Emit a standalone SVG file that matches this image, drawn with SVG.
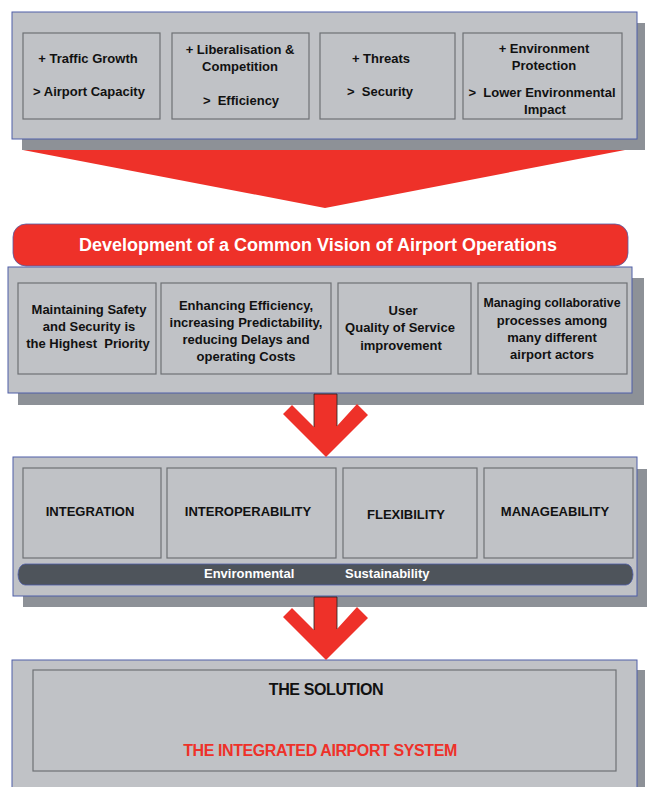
<svg xmlns="http://www.w3.org/2000/svg" width="647" height="787" viewBox="0 0 647 787">
<style>
.shadow{fill:#8D9197}
.panel{fill:#C0C2C6;stroke:#4F5EA8;stroke-width:1}
.cell{fill:#C0C2C6;stroke:#6E7175;stroke-width:1.2}
.red{fill:#EE3129}
text{font-family:"Liberation Sans",Arial,sans-serif;font-weight:bold;font-size:13px;fill:#111;text-anchor:middle;white-space:pre}
.white{fill:#fff}
.big{font-size:16px;letter-spacing:-0.4px}
</style>
<rect width="647" height="787" fill="#fff"/>
<g id="section1">
<rect class="shadow" x="22" y="23" width="623" height="127"/>
<rect class="panel" x="12" y="12" width="625" height="127"/>
</g>
<g id="node-traffic">
<rect class="cell" x="23" y="33" width="137" height="86"/>
<text x="88" y="63">+ Traffic Growth</text>
<text x="89" y="96">&gt; Airport Capacity</text>
</g>
<g id="node-liberalisation">
<rect class="cell" x="172" y="33" width="137" height="86"/>
<text x="240" y="54">+ Liberalisation &amp;</text>
<text x="240" y="71">Competition</text>
<text x="241" y="105" xml:space="preserve">&gt;  Efficiency</text>
</g>
<g id="node-threats">
<rect class="cell" x="320" y="33" width="135" height="86"/>
<text x="381" y="63">+ Threats</text>
<text x="380" y="96" xml:space="preserve">&gt;  Security</text>
</g>
<g id="node-environment">
<rect class="cell" x="463" y="33" width="159" height="86"/>
<text x="544" y="53">+ Environment</text>
<text x="544" y="70">Protection</text>
<text x="542" y="97" xml:space="preserve">&gt;  Lower Environmental</text>
<text x="545" y="114">Impact</text>
</g>
<g id="section2">
<rect class="shadow" x="18" y="278" width="626" height="127"/>
<rect class="red" x="13" y="224" width="615" height="42" rx="13" ry="13" stroke="#4F5EA8" stroke-width="0.8"/>
<text class="white" x="318" y="251" style="font-size:18px">Development of a Common Vision of Airport Operations</text>
<rect class="panel" x="8" y="267" width="624" height="126"/>
</g>
<g id="node-safety">
<rect class="cell" x="18" y="283" width="138" height="91"/>
<text x="89" y="314">Maintaining Safety</text>
<text x="89" y="331">and Security is</text>
<text x="88" y="348" xml:space="preserve">the Highest  Priority</text>
</g>
<g id="node-efficiency">
<rect class="cell" x="161" y="283" width="170" height="91"/>
<text x="246" y="310">Enhancing Efficiency,</text>
<text x="246" y="327">increasing Predictability,</text>
<text x="246" y="344">reducing Delays and</text>
<text x="246" y="361">operating Costs</text>
</g>
<g id="node-user">
<rect class="cell" x="338" y="283" width="133" height="91"/>
<text x="403" y="315">User</text>
<text x="400" y="332">Quality of Service</text>
<text x="401" y="350">improvement</text>
</g>
<g id="node-managing">
<rect class="cell" x="478" y="283" width="149" height="91"/>
<text x="552" y="307" textLength="137" lengthAdjust="spacingAndGlyphs">Managing collaborative</text>
<text x="552" y="325">processes among</text>
<text x="552" y="342">many different</text>
<text x="552" y="359">airport actors</text>
</g>
<g id="section3">
<rect class="shadow" x="23" y="469" width="624" height="138"/>
<rect class="panel" x="13" y="457" width="624" height="139"/>
</g>
<g id="node-integration">
<rect class="cell" x="23" y="468" width="138" height="90"/>
<text x="90" y="516">INTEGRATION</text>
</g>
<g id="node-interoperability">
<rect class="cell" x="167" y="468" width="169" height="90"/>
<text x="248" y="516">INTEROPERABILITY</text>
</g>
<g id="node-flexibility">
<rect class="cell" x="343" y="468" width="134" height="90"/>
<text x="406" y="519">FLEXIBILITY</text>
</g>
<g id="node-manageability">
<rect class="cell" x="484" y="468" width="149" height="90"/>
<text x="555" y="516">MANAGEABILITY</text>
</g>
<g id="node-sustainability">
<rect x="18" y="564" width="615" height="21" rx="7" ry="10.5" fill="#4E545B" stroke="#4F5EA8" stroke-width="0.8"/>
<text class="white" x="204" y="578" style="text-anchor:start">Environmental</text>
<text class="white" x="345" y="578" style="text-anchor:start">Sustainability</text>
</g>
<g id="section4">
<rect class="shadow" x="22" y="670" width="623" height="130"/>
<rect class="panel" x="12" y="660" width="625" height="140"/>
</g>
<g id="node-solution">
<rect class="cell" x="33" y="670" width="583" height="101"/>
<text class="big" x="326" y="695">THE SOLUTION</text>
<text class="big" x="320" y="756" style="fill:#EE3129">THE INTEGRATED AIRPORT SYSTEM</text>
</g>
<g id="connectors">
<polygon class="red" points="23,150 625,150 325,208"/>
<polygon class="red" points="314,394 337,394 337,426 357,404 368,415 326,457 283,414 292,405 314,427"/>
<line x1="314" y1="394" x2="314" y2="427" stroke="#222" stroke-width="0.8"/>
<line x1="337" y1="394" x2="337" y2="426" stroke="#222" stroke-width="0.8"/>
<line x1="314" y1="394" x2="337" y2="394" stroke="#222" stroke-width="0.8"/>
<polygon class="red" points="314,597 337,597 337,629 357,607 368,618 326,660 283,617 292,608 314,630"/>
<line x1="314" y1="597" x2="314" y2="630" stroke="#222" stroke-width="0.8"/>
<line x1="337" y1="597" x2="337" y2="629" stroke="#222" stroke-width="0.8"/>
<line x1="314" y1="597" x2="337" y2="597" stroke="#222" stroke-width="0.8"/>
</g>
</svg>
